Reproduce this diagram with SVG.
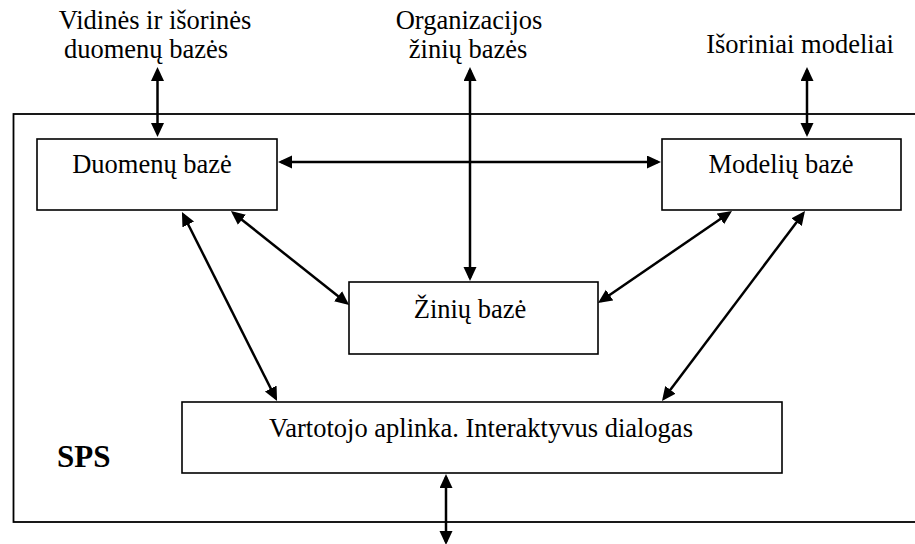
<svg xmlns="http://www.w3.org/2000/svg" width="915" height="544" viewBox="0 0 915 544">
  <style>
    .box { fill: #ffffff; stroke: #000000; stroke-width: 1.6; }
    .frame { fill: none; stroke: #000000; stroke-width: 1.8; }
    text { font-family: 'Liberation Serif', 'DejaVu Serif', serif; fill: #000000; }
    .lbl { font-size: 26.5px; text-anchor: middle; }
    .title { font-size: 31px; font-weight: bold; }
    .arrow { fill: none; stroke: #000000; stroke-width: 2.5; marker-start: url(#head); marker-end: url(#head); }
  </style>
  <defs>
    <marker id="head" markerUnits="userSpaceOnUse" markerWidth="16" markerHeight="14" refX="11" refY="6.5" orient="auto-start-reverse">
      <path d="M0,0 L14,6.5 L0,13 Z" fill="#000000"/>
    </marker>
  </defs>
  <rect width="915" height="544" fill="#ffffff"/>

  <!-- system frame -->
  <g id="sps">
    <rect class="frame" x="13.5" y="114" width="920" height="408"/>
    <text class="title" x="57" y="467">SPS</text>
  </g>

  <!-- external sources -->
  <g id="ext-db">
    <text class="lbl" x="155" y="29">Vidinės ir išorinės</text>
    <text class="lbl" x="146" y="58">duomenų bazės</text>
  </g>
  <g id="ext-kb">
    <text class="lbl" x="469" y="29">Organizacijos</text>
    <text class="lbl" x="468" y="58">žinių bazės</text>
  </g>
  <g id="ext-models">
    <text class="lbl" x="800" y="53">Išoriniai modeliai</text>
  </g>

  <!-- internal components -->
  <g id="database">
    <rect class="box" x="37" y="139" width="240" height="71"/>
    <text class="lbl" x="152" y="173">Duomenų bazė</text>
  </g>
  <g id="modelbase">
    <rect class="box" x="662" y="139" width="239" height="71"/>
    <text class="lbl" x="781" y="173">Modelių bazė</text>
  </g>
  <g id="knowledgebase">
    <rect class="box" x="349" y="282" width="249" height="72"/>
    <text class="lbl" x="470" y="318">Žinių bazė</text>
  </g>
  <g id="ui">
    <rect class="box" x="182" y="402" width="600" height="71"/>
    <text class="lbl" x="481" y="437">Vartotojo aplinka. Interaktyvus dialogas</text>
  </g>

  <!-- connectors (all bidirectional) -->
  <g id="connectors">
    <path class="arrow" d="M157.5,70 L157.5,134"/>
    <path class="arrow" d="M470,70 L470,278"/>
    <path class="arrow" d="M807,70 L807,134"/>
    <path class="arrow" d="M281,162 L658,162"/>
    <path class="arrow" d="M233.3,212.9 L346.7,303.1"/>
    <path class="arrow" d="M183.3,214.7 L275.7,398.3"/>
    <path class="arrow" d="M729.5,212.7 L600.5,301.3"/>
    <path class="arrow" d="M803.2,213.4 L663.8,398.6"/>
    <path class="arrow" d="M446,477 L446,542"/>
  </g>
</svg>
